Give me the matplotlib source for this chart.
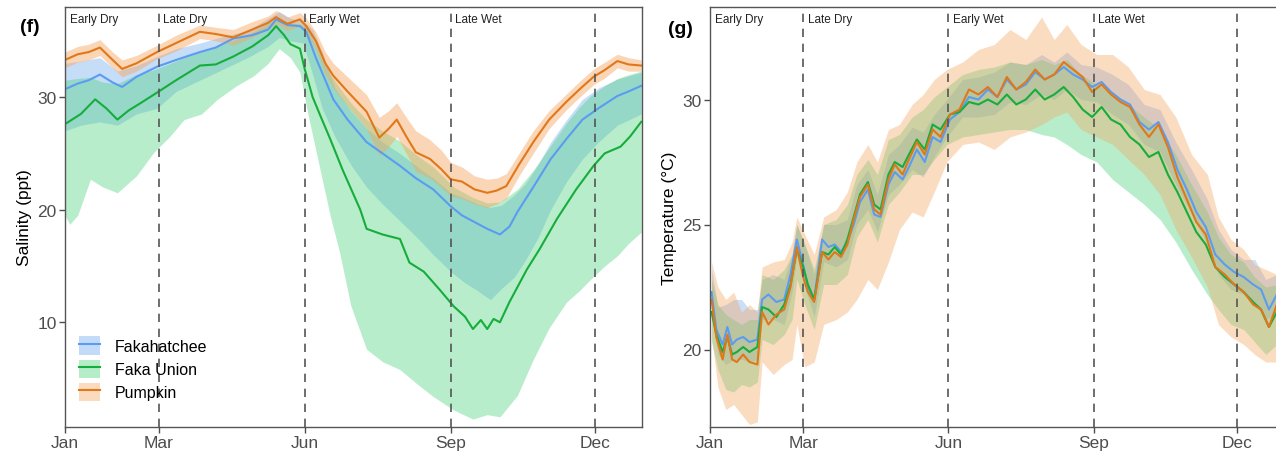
import matplotlib
matplotlib.use("Agg")
import numpy as np
import matplotlib.pyplot as plt
from matplotlib.patches import Patch
from matplotlib.lines import Line2D
from matplotlib.transforms import blended_transform_factory

plt.rcParams['font.family'] = ['Liberation Sans', 'DejaVu Sans']

# ---- data (day of year) ----
month_days = [0, 59, 151, 243, 334]
month_labels = ['Jan', 'Mar', 'Jun', 'Sep', 'Dec']
season_bounds = [59, 151, 243, 334]
season_names = ['Early Dry', 'Late Dry', 'Early Wet', 'Late Wet']
season_starts = [0, 59, 151, 243]

sites = ['Fakahatchee', 'Faka Union', 'Pumpkin']
line_colors = {'Fakahatchee': '#5b9cf0', 'Faka Union': '#17ad3c', 'Pumpkin': '#e0781a'}
band_colors = {'Fakahatchee': '#6aa6ee', 'Faka Union': '#45d277', 'Pumpkin': '#f4a55e'}

# salinity (f)
sal_fak_days = [0, 8, 15, 22, 30, 36, 45, 58, 70, 85, 95, 106, 118, 128, 133, 140, 148, 152, 158, 164,
                169, 178, 190, 200, 211, 221, 232, 243, 250, 258, 266, 274, 280, 285, 295, 306, 316, 326,
                336, 348, 355, 363]
sal_fak = [30.7, 31.2, 31.5, 32.0, 31.3, 30.9, 31.8, 32.7, 33.3, 34.0, 34.4, 35.2, 35.5, 36.0, 36.9, 36.4,
           36.3, 35.8, 33.5, 31.5, 29.8, 28.0, 26.0, 25.0, 23.9, 22.8, 21.8, 20.3, 19.5, 18.9, 18.3, 17.8,
           18.5, 19.8, 22.0, 24.5, 26.3, 28.0, 29.0, 30.1, 30.5, 31.0]
sal_fak_band_days = [0, 10, 22, 33, 45, 58, 70, 85, 100, 115, 128, 135, 142, 150, 156, 162, 170, 180, 190,
                     200, 211, 222, 232, 243, 252, 260, 268, 275, 283, 290, 298, 306, 316, 326, 336, 348, 363]
sal_fak_hi = [33.0, 33.2, 33.5, 32.3, 32.8, 33.6, 34.3, 34.8, 35.4, 35.9, 37.0, 37.6, 37.0, 36.8, 36.0, 34.0,
              30.8, 28.8, 27.2, 26.0, 25.0, 23.8, 22.8, 21.5, 21.0, 20.5, 20.2, 20.4, 21.3, 22.3, 24.0, 26.0,
              28.0, 29.8, 30.8, 31.6, 32.2]
sal_fak_lo = [27.0, 27.5, 27.8, 27.5, 28.5, 29.0, 30.5, 31.5, 32.5, 33.5, 34.5, 35.3, 35.0, 34.8, 32.0, 29.0,
              26.5, 24.0, 22.0, 20.5, 19.0, 17.5, 16.0, 14.5, 13.5, 12.8, 12.0, 13.0, 14.0, 15.5, 17.5, 20.0,
              22.5, 24.5, 26.0, 27.5, 28.5]

sal_fu_days = [0, 10, 19, 26, 33, 40, 48, 58, 70, 85, 95, 106, 118, 128, 133, 138, 142, 148, 151, 156, 161,
               167, 175, 186, 190, 200, 211, 217, 226, 236, 245, 252, 257, 262, 266, 270, 274, 280, 291, 299,
               310, 322, 333, 340, 350, 356, 363]
sal_fu = [27.6, 28.5, 29.8, 29.0, 28.0, 28.8, 29.5, 30.4, 31.5, 32.8, 32.9, 33.6, 34.5, 35.5, 36.3, 35.5,
          34.7, 34.3, 32.5, 30.0, 28.3, 26.3, 23.5, 20.0, 18.3, 17.8, 17.4, 15.3, 14.5, 12.9, 11.4, 10.5, 9.4,
          10.2, 9.4, 10.3, 10.0, 11.8, 14.7, 16.5, 19.2, 21.8, 23.9, 25.0, 25.6, 26.5, 27.8]
sal_fu_lo_days = [0, 3, 8, 16, 24, 33, 45, 56, 66, 75, 86, 96, 108, 119, 128, 135, 142, 148, 153, 160, 167,
                  173, 180, 190, 200, 211, 222, 232, 245, 257, 266, 274, 285, 295, 305, 316, 324, 331, 340,
                  348, 355, 363]
sal_fu_lo = [19.5, 18.7, 19.5, 22.7, 22.0, 21.5, 23.0, 25.1, 26.5, 28.0, 28.5, 29.8, 31.0, 31.9, 33.0, 34.3,
             33.5, 32.2, 28.5, 24.0, 19.5, 16.2, 11.5, 7.6, 6.5, 5.8, 4.5, 3.4, 2.2, 1.4, 1.8, 1.6, 3.5, 6.7,
             9.5, 11.8, 12.8, 13.8, 15.0, 15.9, 17.0, 18.0]
sal_fu_hi_days = [0, 15, 30, 45, 58, 75, 95, 115, 133, 145, 152, 158, 165, 172, 180, 190, 200, 210, 220, 232,
                  245, 258, 268, 278, 290, 300, 310, 320, 330, 340, 350, 363]
sal_fu_hi = [31.5, 31.8, 31.0, 32.0, 32.5, 33.5, 34.5, 35.5, 37.0, 36.5, 36.5, 34.5, 32.5, 31.0, 29.5, 28.0,
             27.0, 26.2, 25.0, 23.8, 22.0, 21.0, 20.5, 20.8, 22.5, 24.5, 26.5, 28.5, 30.0, 31.0, 31.8, 32.3]

sal_pu_days = [0, 8, 15, 22, 30, 36, 45, 58, 70, 85, 95, 106, 118, 128, 133, 140, 148, 152, 158, 164, 169,
               178, 190, 198, 204, 209, 215, 221, 230, 237, 243, 250, 258, 266, 272, 278, 286, 295, 305, 316,
               325, 333, 340, 348, 355, 363]
sal_pu = [33.3, 33.8, 34.0, 34.4, 33.3, 32.5, 33.0, 34.0, 34.8, 35.8, 35.6, 35.3, 36.0, 36.6, 37.1, 36.5,
          36.9, 36.3, 35.0, 33.0, 31.9, 30.5, 28.7, 26.4, 27.2, 28.0, 26.5, 25.1, 24.5, 23.6, 22.7, 22.5, 21.8,
          21.5, 21.7, 22.1, 24.0, 26.0, 28.0, 29.6, 30.8, 31.8, 32.4, 33.2, 32.9, 32.8]
sal_pu_hi = [34.0, 34.5, 34.7, 35.1, 34.0, 33.3, 33.7, 34.6, 35.5, 36.4, 36.2, 36.0, 36.7, 37.2, 37.7, 37.1,
             37.5, 37.0, 35.8, 34.0, 33.0, 31.8, 30.2, 28.2, 28.8, 29.5, 28.2, 27.0, 26.2, 25.3, 24.2, 23.8,
             23.0, 22.7, 22.8, 23.2, 25.0, 27.0, 28.8, 30.3, 31.5, 32.5, 33.1, 33.8, 33.5, 33.3]
sal_pu_lo = [32.6, 33.1, 33.3, 33.7, 32.6, 31.8, 32.3, 33.4, 34.1, 35.2, 35.0, 34.6, 35.3, 36.0, 36.5, 35.9,
             36.3, 35.6, 34.2, 32.0, 30.8, 29.2, 27.2, 24.8, 25.6, 26.5, 25.0, 23.4, 22.8, 22.0, 21.2, 21.0,
             20.5, 20.2, 20.5, 21.0, 23.0, 25.0, 27.2, 28.9, 30.1, 31.1, 31.7, 32.6, 32.3, 32.3]

# temperature (g)
temp_days = [1, 4, 8, 11, 14, 17, 21, 25, 30, 33, 37, 42, 47, 51, 55, 59, 62, 66, 71, 75, 79, 83, 87, 91, 95,
             100, 104, 108, 113, 117, 122, 126, 131, 136, 141, 146, 152, 158, 164, 170, 176, 182, 188, 194,
             200, 206, 212, 218, 224, 230, 236, 242, 248, 254, 260, 266, 272, 278, 284, 290, 296, 302, 308,
             314, 320, 326, 332, 338, 344, 349, 354, 359]
temp_pu = [22.0, 20.5, 19.6, 20.6, 19.6, 19.5, 19.8, 19.5, 19.4, 21.5, 21.0, 21.4, 21.6, 22.5, 24.1, 22.9,
           22.3, 21.9, 23.9, 23.6, 23.9, 23.7, 24.2, 25.2, 26.1, 26.6, 25.6, 25.4, 26.8, 27.4, 27.0, 27.6,
           28.3, 27.8, 28.8, 28.5, 29.4, 29.6, 30.4, 30.2, 30.5, 30.1, 30.9, 30.4, 30.7, 31.2, 30.8, 31.0,
           31.5, 31.2, 30.9, 30.3, 30.6, 30.2, 29.9, 29.7, 29.0, 28.5, 29.0, 28.1, 26.9, 26.0, 25.1, 24.6,
           23.3, 23.0, 22.6, 22.3, 21.8, 21.6, 20.9, 21.8]
temp_fak = [22.3, 20.8, 20.2, 20.9, 20.2, 20.4, 20.5, 20.3, 20.4, 22.0, 22.2, 21.9, 22.0, 23.0, 24.4, 23.4,
            22.5, 22.0, 24.4, 24.1, 24.2, 23.9, 24.3, 25.0, 25.9, 26.4, 25.4, 25.3, 26.6, 27.1, 26.8, 27.3,
            28.0, 27.5, 28.5, 28.3, 29.2, 29.5, 30.1, 30.0, 30.4, 30.1, 30.8, 30.4, 30.6, 31.1, 30.8, 31.0,
            31.3, 31.0, 30.8, 30.5, 30.7, 30.3, 30.0, 29.8, 29.1, 28.8, 29.1, 28.3, 27.2, 26.4, 25.5, 24.9,
            23.8, 23.4, 23.1, 22.9, 22.6, 22.4, 21.6, 22.2]
temp_fu = [21.5, 20.6, 19.9, 20.5, 19.8, 19.9, 20.1, 19.9, 20.1, 21.7, 21.6, 21.3, 21.8, 22.6, 24.0, 23.3,
           22.6, 22.0, 23.9, 23.8, 24.1, 23.8, 24.4, 25.3, 26.2, 26.7, 25.8, 25.6, 27.0, 27.5, 27.3, 27.8,
           28.4, 28.0, 29.0, 28.8, 29.4, 29.5, 29.9, 29.8, 30.0, 29.8, 30.2, 29.8, 30.0, 30.4, 30.0, 30.2,
           30.5, 30.1, 29.6, 29.3, 29.7, 29.2, 29.0, 28.5, 28.2, 27.7, 27.9, 27.0, 26.3, 25.5, 24.7, 24.2,
           23.3, 22.9, 22.6, 22.3, 21.9, 21.6, 20.9, 21.5]

temp_band_days = [1, 5, 10, 15, 20, 25, 30, 33, 40, 47, 52, 55, 60, 66, 72, 80, 87, 93, 100, 106, 113, 120,
                  128, 135, 142, 150, 160, 170, 180, 190, 200, 210, 218, 226, 235, 245, 255, 265, 275, 285,
                  295, 305, 315, 322, 330, 338, 345, 352, 359]
temp_pu_hi = [23.5, 22.5, 22.0, 22.3, 21.5, 21.8, 21.5, 23.3, 23.5, 23.6, 24.3, 25.3, 24.6, 23.8, 25.3, 25.6,
              26.3, 27.5, 28.2, 27.5, 28.8, 29.0, 29.8, 30.2, 30.8, 31.2, 31.5, 32.0, 32.2, 32.8, 32.4, 33.3,
              32.4, 33.0, 32.2, 31.8, 31.8, 31.3, 30.4, 30.2, 29.3, 27.8, 27.0, 25.3, 24.4, 24.0, 23.4, 23.2,
              23.0]
temp_pu_lo = [20.5, 18.5, 17.6, 17.8, 17.4, 17.0, 17.1, 19.5, 19.0, 19.4, 19.6, 21.0, 19.3, 19.5, 21.0, 21.2,
              21.5, 22.0, 22.8, 22.4, 23.5, 24.8, 25.5, 25.3, 26.3, 27.5, 28.2, 28.3, 28.0, 28.5, 28.7, 29.0,
              29.3, 29.5, 28.8, 28.5, 28.2, 27.6, 27.0, 26.2, 24.8, 23.7, 22.5, 21.0, 20.5, 20.2, 19.8, 19.5,
              19.5]
temp_fu_hi = [22.8, 21.8, 21.4, 21.2, 21.0, 21.2, 21.2, 23.0, 22.8, 23.2, 23.8, 25.0, 24.2, 23.2, 25.0, 25.2,
              25.8, 27.0, 27.6, 27.0, 28.4, 28.6, 29.3, 29.6, 30.1, 30.5, 31.0, 31.2, 31.3, 31.5, 31.4, 31.6,
              31.4, 31.6, 31.0, 30.6, 30.3, 29.8, 29.3, 28.8, 27.8, 26.6, 25.5, 24.5, 23.8, 23.5, 22.9, 22.5,
              22.6]
temp_fu_lo = [20.3, 19.2, 18.4, 18.3, 18.6, 18.5, 18.7, 20.4, 20.2, 20.6, 21.2, 22.8, 21.8, 20.8, 22.6, 22.6,
              23.0, 24.5, 25.2, 24.3, 25.8, 26.3, 27.0, 27.0, 27.6, 28.2, 28.5, 28.6, 28.7, 28.8, 28.8, 28.6,
              28.5, 28.2, 27.8, 27.5, 26.8, 26.3, 25.8, 25.2, 24.3, 23.2, 22.2, 21.6, 21.0, 20.8, 20.3, 19.8,
              20.2]
temp_fak_hi = [23.2, 21.7, 21.8, 22.0, 22.0, 21.6, 21.6, 22.8, 23.0, 22.8, 23.8, 25.0, 24.2, 23.0, 25.0, 25.0,
               25.2, 26.6, 27.2, 26.2, 27.8, 28.2, 28.9, 28.7, 29.4, 30.0, 30.8, 30.9, 31.1, 31.5, 31.4, 31.8,
               31.5, 31.9, 31.4, 31.3, 31.0, 30.6, 29.8, 29.6, 28.3, 27.2, 26.0, 24.8, 24.0, 23.6, 23.6, 22.8,
               23.0]
temp_fak_lo = [21.3, 19.8, 19.4, 19.6, 19.6, 19.5, 19.6, 21.2, 21.2, 21.0, 22.3, 23.7, 22.5, 21.3, 23.5, 23.3,
               23.6, 25.0, 25.6, 24.7, 26.2, 26.6, 27.2, 26.9, 27.7, 28.5, 29.3, 29.3, 29.4, 29.9, 29.8, 30.2,
               30.0, 30.4, 30.0, 29.9, 29.4, 29.0, 28.2, 27.9, 26.6, 25.4, 24.2, 23.0, 22.4, 22.2, 21.8, 21.2,
               21.4]

W, H = 1276, 456
fig = plt.figure(figsize=(W / 100, H / 100), dpi=100)
ax1 = fig.add_axes([65 / W, 28 / H, 577 / W, 420 / H])
ax2 = fig.add_axes([710 / W, 28 / H, 570 / W, 420 / H])


def style_axis(ax, xmax, ylim, yticks):
    ax.set_xlim(0, xmax)
    ax.set_ylim(*ylim)
    ax.set_xticks(month_days)
    ax.set_xticklabels(month_labels)
    ax.set_yticks(yticks)
    for s in ax.spines.values():
        s.set_color('#555555')
        s.set_linewidth(1.0)
    ax.tick_params(colors='#4d4d4d', labelsize=12.5, length=4, width=1.0, pad=2)
    for b in season_bounds:
        ax.axvline(b, color='#555555', lw=1.2, ls=(0, (5, 4)), zorder=5)
    tr = blended_transform_factory(ax.transData, ax.transAxes)
    for s0, name in zip(season_starts, season_names):
        ax.text(s0 + 3, 0.985, name, transform=tr, ha='left', va='top', fontsize=8.5, color='#222222')


# ---- panel f: salinity ----
fu_hi_on_grid = np.interp(sal_fu_lo_days, sal_fu_hi_days, sal_fu_hi)
ax1.fill_between(sal_fak_band_days, sal_fak_lo, sal_fak_hi, color=band_colors['Fakahatchee'], alpha=0.38, lw=0)
ax1.fill_between(sal_fu_lo_days, sal_fu_lo, fu_hi_on_grid, color=band_colors['Faka Union'], alpha=0.38, lw=0)
ax1.fill_between(sal_pu_days, sal_pu_lo, sal_pu_hi, color=band_colors['Pumpkin'], alpha=0.45, lw=0)
ax1.plot(sal_fak_days, sal_fak, color=line_colors['Fakahatchee'], lw=1.5)
ax1.plot(sal_fu_days, sal_fu, color=line_colors['Faka Union'], lw=1.5)
ax1.plot(sal_pu_days, sal_pu, color=line_colors['Pumpkin'], lw=1.5)
style_axis(ax1, 363.5, (0.7, 38.0), [10, 20, 30])
ax1.set_ylabel('Salinity (ppt)', fontsize=12.5, labelpad=4)

handles = [(Patch(facecolor=band_colors[s], alpha=0.4, lw=0), Line2D([], [], color=line_colors[s], lw=1.5))
           for s in sites]
ax1.legend(handles, sites, loc='upper left', bbox_to_anchor=(0.0, 0.25), frameon=False, fontsize=11.5,
           handlelength=1.3, handleheight=1.4, labelspacing=0.3, handletextpad=0.9)

# ---- panel g: temperature ----
ax2.fill_between(temp_band_days, temp_fak_lo, temp_fak_hi, color=band_colors['Fakahatchee'], alpha=0.35, lw=0)
ax2.fill_between(temp_band_days, temp_fu_lo, temp_fu_hi, color=band_colors['Faka Union'], alpha=0.38, lw=0)
ax2.fill_between(temp_band_days, temp_pu_lo, temp_pu_hi, color=band_colors['Pumpkin'], alpha=0.38, lw=0)
ax2.plot(temp_days, temp_fak, color=line_colors['Fakahatchee'], lw=1.5)
ax2.plot(temp_days, temp_fu, color=line_colors['Faka Union'], lw=1.5)
ax2.plot(temp_days, temp_pu, color=line_colors['Pumpkin'], lw=1.5)
style_axis(ax2, 361, (16.9, 33.7), [20, 25, 30])
ax2.set_ylabel('Temperature (°C)', fontsize=12.5, labelpad=4)

fig.text(20 / W, 1 - 27 / H, '(f)', fontsize=14, fontweight='bold', va='center')
fig.text(668 / W, 1 - 30 / H, '(g)', fontsize=14, fontweight='bold', va='center')

fig.savefig('out.png', dpi=100)
